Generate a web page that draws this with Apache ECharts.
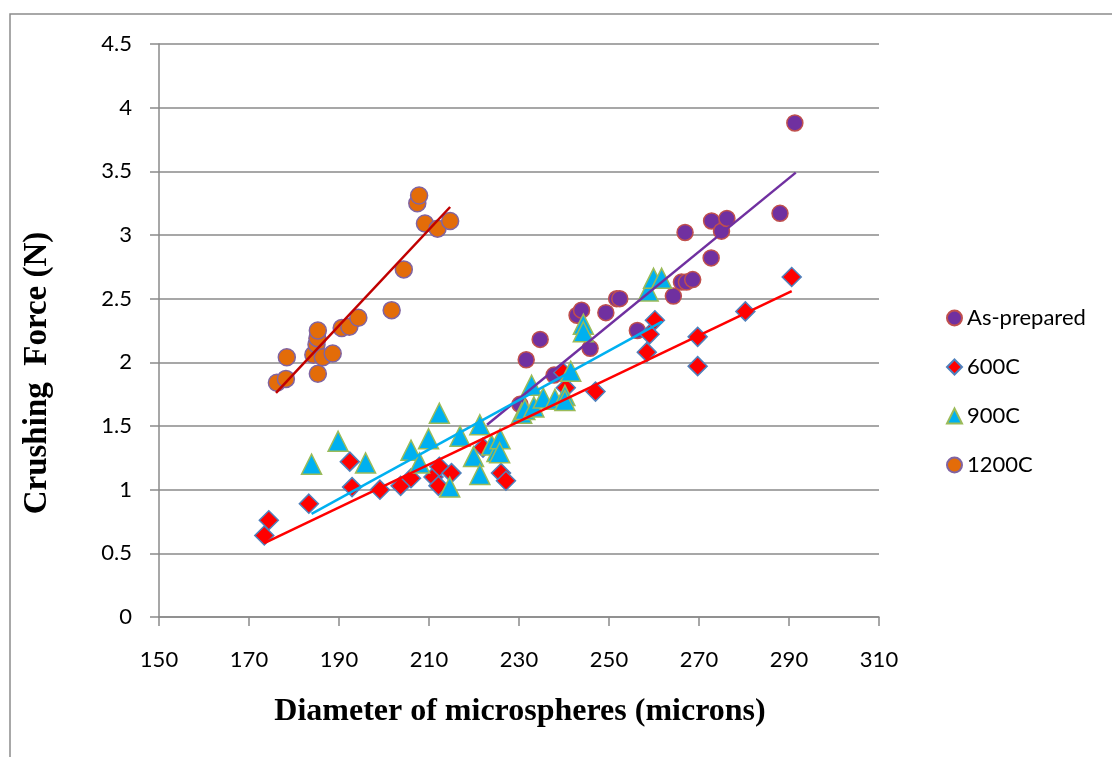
<!DOCTYPE html>
<html>
<head>
<meta charset="utf-8">
<script src="https://cdn.jsdelivr.net/npm/echarts@6/dist/echarts.min.js"></script>
<style>
  html, body { margin: 0; padding: 0; background: #fff; }
  #main { width: 1112px; height: 757px; }
</style>
</head>
<body>
<div id="main"></div>
<script>
// axis ranges
var xMin = 150, xMax = 310, xStep = 20;
var yMin = 0, yMax = 4.5, yStep = 0.5;

var seriesNames = ['As-prepared', '600C', '900C', '1200C'];

// [diameter, crushing force]
var asPrepared = [
  [230.2, 1.67], [231.6, 2.02], [234.7, 2.18], [237.8, 1.90], [242.9, 2.37],
  [243.9, 2.41], [245.8, 2.11], [249.3, 2.39], [251.7, 2.50], [252.4, 2.50],
  [256.3, 2.25], [264.3, 2.52], [266.1, 2.63], [267.2, 2.63], [268.6, 2.65],
  [266.9, 3.02], [272.7, 2.82], [272.8, 3.11], [275.0, 3.03], [276.2, 3.13],
  [288.0, 3.17], [291.3, 3.88]
];
var c600 = [
  [173.4, 0.64], [174.4, 0.76], [183.3, 0.89], [192.4, 1.22], [192.9, 1.02],
  [199.1, 1.00], [203.7, 1.03], [206.0, 1.09], [211.0, 1.10], [212.3, 1.18],
  [212.1, 1.03], [215.0, 1.13], [222.0, 1.33], [226.0, 1.13], [227.1, 1.07],
  [239.8, 1.92], [240.4, 1.80], [247.0, 1.77], [258.4, 2.08], [259.0, 2.22],
  [260.2, 2.33], [269.7, 2.20], [269.7, 1.97], [280.3, 2.40], [290.6, 2.67]
];
var c900 = [
  [183.9, 1.20], [189.8, 1.38], [195.9, 1.21], [206.0, 1.31], [207.9, 1.21],
  [209.9, 1.40], [212.3, 1.60], [214.6, 1.02], [216.9, 1.42], [219.9, 1.26],
  [221.3, 1.12], [221.3, 1.51], [223.9, 1.35], [225.1, 1.30], [225.8, 1.40],
  [225.7, 1.29], [230.6, 1.60], [231.3, 1.63], [232.8, 1.82], [233.3, 1.65],
  [235.4, 1.72], [238.0, 1.71], [240.2, 1.74], [240.2, 1.70], [241.5, 1.93],
  [244.3, 2.30], [244.3, 2.24], [258.7, 2.56], [259.9, 2.66], [261.7, 2.66]
];
var c1200 = [
  [176.2, 1.84], [178.2, 1.87], [178.4, 2.04], [184.3, 2.06], [185.0, 2.14],
  [185.2, 2.19], [185.3, 2.25], [185.3, 1.91], [186.4, 2.04], [188.6, 2.07],
  [190.6, 2.27], [192.3, 2.28], [194.3, 2.35], [201.7, 2.41], [204.4, 2.73],
  [207.4, 3.25], [207.8, 3.31], [209.1, 3.09], [211.9, 3.05], [214.7, 3.11]
];

// trend line end points
var trendAs = [[222.9, 1.51], [291.5, 3.49]];
var trend600 = [[173.4, 0.58], [290.6, 2.56]];
var trend900 = [[183.9, 0.81], [261.8, 2.32]];
var trend1200 = [[176.0, 1.76], [214.7, 3.22]];

var chart = echarts.init(document.getElementById('main'));

function scatter(name, data, symbol, size, fill, border) {
  return {
    name: name,
    type: 'scatter',
    data: data,
    symbol: symbol,
    symbolSize: size,
    itemStyle: { color: fill, borderColor: border, borderWidth: 1.5, opacity: 1 },
    z: 2
  };
}
function trend(data, color) {
  return {
    type: 'line',
    data: data,
    symbol: 'none',
    silent: true,
    lineStyle: { color: color, width: 2.5 },
    z: 5
  };
}

chart.setOption({
  animation: false,
  backgroundColor: '#fff',
  textStyle: { fontFamily: 'Lato' },
  graphic: [
    {
      type: 'rect',
      shape: { x: 10, y: 14, width: 1200, height: 800 },
      style: { fill: 'none', stroke: '#8c8c8c', lineWidth: 1.5 },
      silent: true
    },
    {
      type: 'text',
      x: 520, y: 712,
      style: {
        text: 'Diameter of microspheres (microns)',
        font: 'bold 32px "Liberation Serif"',
        fill: '#000',
        align: 'center',
        verticalAlign: 'middle'
      }
    },
    {
      type: 'text',
      x: 37, y: 373,
      rotation: Math.PI / 2,
      style: {
        text: 'Crushing  Force (N)',
        font: 'bold 33px "Liberation Serif"',
        fill: '#000',
        align: 'center',
        verticalAlign: 'middle'
      }
    }
  ],
  grid: { left: 159, right: 233, top: 44, bottom: 140, containLabel: false },
  legend: {
    data: seriesNames,
    orient: 'vertical',
    left: 941,
    top: 302,
    itemWidth: 15,
    itemHeight: 15,
    itemGap: 27,
    textStyle: { fontFamily: 'Lato', fontSize: 22, lineHeight: 22, color: '#000' }
  },
  xAxis: {
    type: 'value',
    min: xMin, max: xMax, interval: xStep,
    axisLine: { show: true, onZero: false, lineStyle: { color: '#8a8a8a', width: 1.5 } },
    axisTick: { show: true, length: 9, lineStyle: { color: '#8a8a8a', width: 1.5 } },
    axisLabel: { fontFamily: 'Lato', fontSize: 22, color: '#000', margin: 32 },
    splitLine: { show: false }
  },
  yAxis: {
    type: 'value',
    min: yMin, max: yMax, interval: yStep,
    axisLine: { show: true, lineStyle: { color: '#8a8a8a', width: 1.5 } },
    axisTick: { show: true, length: 9, lineStyle: { color: '#8a8a8a', width: 1.5 } },
    axisLabel: { fontFamily: 'Lato', fontSize: 22, color: '#000', margin: 27 },
    splitLine: { show: true, lineStyle: { color: '#8a8a8a', width: 1.5 } }
  },
  series: [
    scatter('As-prepared', asPrepared, 'circle', 16, '#7030A0', '#C0504D'),
    scatter('600C', c600, 'diamond', 19, '#FF0000', '#4F81BD'),
    scatter('900C', c900, 'triangle', 20, '#00B0F0', '#9BBB59'),
    scatter('1200C', c1200, 'circle', 17, '#E36C09', '#8064A2'),
    trend(trendAs, '#7030A0'),
    trend(trend600, '#FF0000'),
    trend(trend900, '#00B0F0'),
    trend(trend1200, '#C00000')
  ]
});
</script>
</body>
</html>
